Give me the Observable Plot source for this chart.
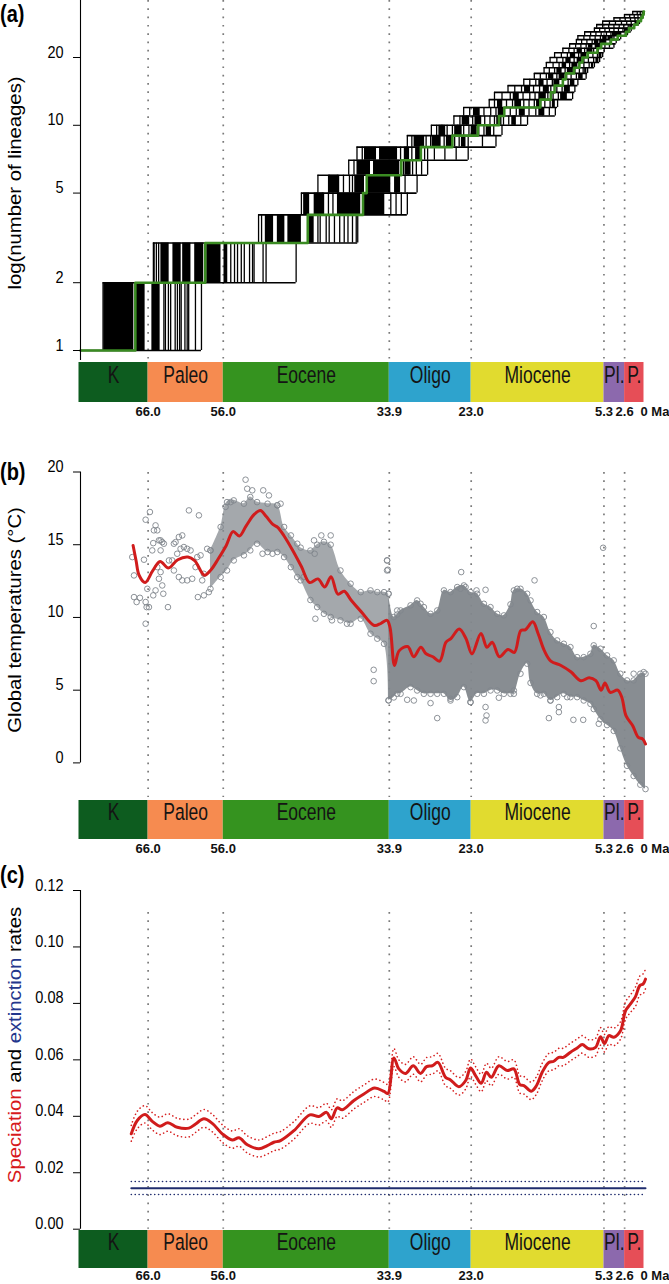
<!DOCTYPE html>
<html><head><meta charset="utf-8">
<script src="https://cdn.jsdelivr.net/npm/d3@7"></script>
<script src="https://cdn.jsdelivr.net/npm/@observablehq/plot@0.6"></script>
<style>
html,body{margin:0;padding:0;background:#fff;}
#chart{position:relative;width:669px;height:1284px;overflow:hidden;background:#fff;}
#chart svg{position:absolute;left:0;overflow:visible;}
</style></head>
<body><div id="chart"></div>
<script>
// ================= DATA =================
// geological time scale (Ma)
const eraNames  = ["K","Paleo","Eocene","Oligo","Miocene","Pl.","P."];
const eraStart  = [75.2, 66.0, 56.0, 33.9, 23.0, 5.33, 2.58];
const eraEnd    = [66.0, 56.0, 33.9, 23.0, 5.33, 2.58, 0];
const eraColors = ["#0d5c1f","#f68b50","#35931f","#2ea3cd","#e1db2f","#8c69ad","#e64e57"];
const boundaryAges   = [66.0, 56.0, 33.9, 23.0, 5.33, 2.58];
const boundaryLabels = ["66.0","56.0","33.9","23.0","5.3","2.6"];
const presentLabel = "0 Ma";

// (a) lineages through time
const lttRootAge = 75.0;
const lttPresentLineages = 32;
// MCC tree branching times: transition from n to n+1 lineages (n = 1..31)
const mccBranchTimes = [67.7,58.4,44.75,37.4,36.9,32.3,29.7,25.5,22.1,19.3,18.6,13.8,12.4,11.9,10.8,10.4,9.3,8.6,8.2,7.5,6.2,5.7,4.4,3.5,2.4,2.0,1.3,0.84,0.4,0.17,0.05];
// posterior trees: branching times at each lineage level (row i = n->n+1)
const treeBranchTimes = [
 [72.0,71.2,68.6,63.9,63.7,63.3,63.0,62.4,62.1,61.8,61.6,61.1,60.8,60.6,59.7,58.9],
 [65.3,65.2,64.9,64.6,55.0,54.5,54.1,53.6,53.2,52.5,52.1,51.9,50.7,50.3,46.3],
 [51.3,50.9,43.4,43.1,42.3,41.9,41.2,40.5,39.9,39.4,38.8,38.3,38.1],
 [45.6,43.5,42.8,42.0,41.4,33.7,33.0,32.3,31.5],
 [43.4,41.9,40.8,40.0,39.2,38.8,32.9,31.8,30.2],
 [39.3,38.6,32.0,31.4,30.8,30.3,29.6,28.8],
 [38.2,37.5,32.4,31.6,30.9,30.0,29.2,28.8,27.9,26.5,25.0,23.4],
 [31.5,30.9,30.2,29.0,28.4,27.3,26.6,26.0,25.2,24.6,23.9,23.4,21.5,19.7],
 [28.3,27.6,26.9,26.2,25.5,24.8,24.0,23.3,22.7,22.0,21.3,20.6,20.0,18.9],
 [25.3,24.5,23.6,22.8,22.0,21.2,20.5,19.9,19.3,18.7,18.0,17.2,16.4,15.5],
 [24.0,23.2,22.1,21.3,20.4,19.7,19.0,18.6,17.8,17.0,16.2,15.3,14.4,13.5,12.6,11.8],
 [20.6,19.9,19.1,18.3,17.5,16.8,16.0,15.3,14.6,13.8,13.2,12.5,11.5],
 [19.9,18.9,17.8,16.9,16.1,15.2,14.5,13.6,12.8,12.1,11.4,10.6,9.5],
 [18.1,17.2,16.3,15.5,14.7,13.9,13.1,12.4,11.6,10.9,10.2,9.2],
 [16.0,15.2,14.4,13.6,12.9,12.2,11.5,10.8,10.1,9.5,8.8],
 [14.6,13.8,13.0,12.3,11.6,10.9,10.3,9.7,9.0,8.4,7.7],
 [13.3,12.6,11.9,11.2,10.5,9.8,9.2,8.6,8.1,7.5],
 [13.0,12.1,11.3,10.6,9.9,9.2,8.6,8.0,7.3,6.6],
 [12.5,11.6,10.8,10.0,9.3,8.6,8.0,7.4,6.7,5.9],
 [11.9,11.0,10.2,9.4,8.7,8.0,7.4,6.8,6.2,5.5],
 [10.8,10.0,9.3,8.6,7.9,7.3,6.7,6.1,5.3],
 [9.9,9.1,8.4,7.7,7.0,6.4,5.8,5.2,4.6,4.0],
 [9.0,8.3,7.6,6.9,6.3,5.7,5.1,4.5,3.7],
 [8.8,8.0,7.2,6.5,5.8,5.2,4.6,4.0,3.1],
 [7.9,7.1,6.4,5.7,5.0,4.4,3.8,3.1,2.2],
 [6.6,5.9,5.2,4.6,4.0,3.4,2.8,2.3,1.7],
 [6.3,5.5,4.7,4.0,3.3,2.7,2.1,1.3],
 [5.5,4.6,3.8,3.0,2.3,1.7,1.1,0.6],
 [4.0,3.2,2.5,1.8,1.2,0.8,0.4],
 [2.6,1.9,1.3,0.8,0.4,0.1],
 [1.5,0.9,0.5,0.2,0.0]
];
// time spans where the posterior branching lines are packed solid black
const treeDenseSpans = [
 [[71.9,67.9],[67.6,66.4],[65.5,64.4]],
 [[64.3,63.2],[62.7,61.6],[61.4,60.3],[59.8,58.6],[58.2,56.3],[55.9,55.4]],
 [[50.4,49.3],[48.8,47.8],[47.4,45.6],[44.7,43.9]],
 [[45.3,44.5],[43.9,42.5],[40.8,37.7],[37.3,34.5]],
 [[42.0,40.5],[38.5,37.2],[36.8,33.7],[33.2,32.4]],
 [[38.2,36.4],[36.0,32.5],[31.8,31.0]],
 [[37.2,35.6],[35.2,32.8],[31.9,31.2],[30.4,29.6]],
 [[30.6,29.2],[28.2,27.0],[26.3,25.4],[24.3,23.7]],
 [[27.3,26.4],[25.2,24.2],[23.0,22.2],[21.0,20.3]],
 [[24.2,23.2],[22.5,21.6],[19.6,18.9],[17.6,17.0]],
 [[22.7,21.8],[19.4,18.7],[16.6,15.8],[14.0,13.2]],
 [[19.5,18.8],[17.2,16.3],[14.3,13.6],[12.2,11.8]],
 [[17.4,16.6],[14.0,13.0],[11.1,10.2]],
 [[15.9,15.1],[13.4,12.6],[10.6,9.8]],
 [[14.0,13.3],[12.0,11.2],[9.8,9.2]],
 [[12.7,12.0],[11.3,10.5],[8.7,8.1]],
 [[11.6,10.9],[10.2,9.4],[7.9,7.6]],
 [[10.9,10.3],[9.6,8.8],[7.0,6.7]],
 [[10.4,9.7],[8.9,8.1],[6.4,6.0]],
 [[9.8,9.1],[8.4,7.6],[6.0,5.6]],
 [[8.9,8.2],[7.6,6.8]],
 [[7.4,6.8],[6.5,5.8]],
 [[6.6,6.0],[5.9,5.1]],
 [[5.5,4.9],[4.8,4.1]],
 [[4.2,3.0]],
 [[2.6,2.0]],
 [[1.9,1.5]],
 [[1.2,0.8]],
 [], [], []
];
const lttTicks = [1,2,5,10,20];

// (b) global temperature: smoothed curve [age, °C]
const tempSmooth = [[68.0,14.95],[67.6,13.9],[67.2,12.9],[66.4,12.4],[65.4,13.2],[64.4,13.85],[63.3,13.4],[62.05,13.97],[60.7,14.15],[59.8,13.9],[58.5,12.9],[57.6,13.3],[56.7,14.0],[55.6,14.95],[54.7,15.9],[53.85,15.6],[52.95,16.3],[51.85,17.1],[51.05,17.35],[50.3,16.95],[49.4,16.4],[48.75,16.2],[47.9,15.6],[46.75,14.6],[45.6,13.5],[44.5,12.4],[43.4,12.65],[42.5,12.1],[41.65,12.8],[40.75,11.6],[39.9,11.8],[39.0,11.2],[37.65,10.4],[35.9,9.45],[35.0,9.6],[34.2,9.8],[33.8,9.3],[33.2,6.7],[32.6,7.7],[31.45,8.0],[30.65,7.3],[29.7,7.95],[29.0,7.5],[28.1,7.3],[27.2,7.0],[26.35,8.3],[25.7,8.55],[24.6,9.2],[23.7,8.55],[22.9,7.5],[21.7,8.9],[20.9,7.95],[20.2,8.3],[19.25,7.3],[18.1,7.8],[17.25,7.6],[16.4,9.1],[15.8,9.15],[14.8,9.7],[14.1,8.9],[13.25,7.7],[12.4,7.0],[11.05,6.7],[9.7,6.25],[8.4,5.65],[7.3,5.85],[6.4,5.65],[5.7,5.0],[5.2,5.5],[4.5,4.85],[3.5,5.0],[2.95,4.5],[2.4,3.25],[1.5,2.55],[0.75,1.75],[0.2,1.65],[-0.2,1.3]];
// dense point cloud envelopes [age, low, high]
const cloudEocene = [[57.7,11.97,14.61],[56.35,12.78,16.22],[55.5,13.23,17.93],[54.6,13.92,18.05],[53.25,14.27,17.82],[52.4,14.61,18.28],[51.5,15.07,17.93],[50.1,14.5,17.82],[48.8,14.5,17.71],[47.9,14.15,16.22],[47.0,13.46,15.64],[46.15,12.78,15.07],[45.7,12.55,14.8],[44.4,11.2,14.6],[43.5,10.71,15.0],[42.6,10.25,15.2],[41.7,10.03,15.0],[40.4,9.8,13.23],[39.05,9.57,12.32],[37.7,9.91,11.74],[36.4,8.88,11.86],[35.5,8.54,11.74],[34.6,8.19,11.74],[34.0,4.3,11.63]];
const cloudNeogene = [[34.0,4.3,11.63],[33.3,4.5,10.03],[32.85,4.75,10.2],[32.4,4.75,10.48],[31.07,5.21,10.83],[30.19,4.98,11.17],[29.3,4.75,10.71],[28.41,4.75,10.25],[27.52,4.75,10.48],[26.63,4.75,11.86],[25.75,4.29,11.74],[24.86,4.52,12.09],[23.97,5.21,12.2],[23.09,4.18,11.74],[22.2,4.75,11.63],[21.31,4.75,10.94],[20.43,4.98,10.71],[19.54,4.98,10.25],[18.65,4.75,10.14],[17.77,4.75,10.9],[17.32,4.75,11.86],[16.44,6.13,11.97],[15.55,6.82,11.63],[15.1,5.5,11.17],[14.22,4.75,10.37],[13.33,4.75,10.03],[12.45,4.29,8.99],[11.56,4.52,8.42],[10.67,4.75,8.19],[9.79,4.52,7.96],[8.9,4.52,7.27],[8.02,4.29,7.27],[7.13,4.06,7.5],[6.69,3.7,8.08],[5.8,3.0,7.85],[4.92,2.6,7.39],[4.03,2.2,7.05],[3.15,1.0,6.13],[2.26,-0.2,5.67],[1.38,-0.9,5.67],[0.49,-1.5,6.13],[-0.2,-1.8,6.13]];
// individual (sparse / outlying) temperature estimates [age, °C]
const tempPoints = [[68.11,14.15],[67.88,12.89],[67.88,11.4],[67.53,11.06],[67.09,11.35],[66.55,13.97],[66.33,16.72],[66.11,11.97],[66.33,11.06],[66.2,10.71],[65.89,10.71],[66.33,9.57],[65.76,17.25],[65.45,14.61],[65.23,15.99],[65.01,16.33],[64.78,15.99],[65.32,15.11],[64.56,15.3],[64.34,15.3],[64.12,15.18],[64.34,14.61],[63.9,15.07],[64.34,13.12],[64.56,12.66],[64.12,12.2],[63.98,11.63],[65.01,11.86],[65.32,11.52],[64.78,13.46],[63.36,10.71],[63.23,13.92],[62.79,13.92],[62.57,15.07],[62.35,15.18],[61.91,15.53],[61.46,15.64],[61.68,14.72],[61.24,14.84],[60.8,14.72],[60.35,14.61],[62.13,14.38],[62.57,13.23],[61.91,12.78],[61.46,12.55],[60.8,12.55],[60.13,12.66],[60.57,17.36],[59.24,17.02],[59.46,14.15],[59.02,14.27],[59.69,13.46],[59.38,11.4],[58.58,11.52],[57.92,11.74],[58.14,14.72],[57.7,14.61],[58.58,13.0],[58.8,12.55],
 [53.03,19.47],[52.81,18.85],[52.14,18.74],[50.68,18.74],[49.92,18.39],[48.81,17.71],[48.37,17.82],[55.02,17.93],[55.69,17.6],[50.77,14.38],[49.44,14.38],[43.92,15.3],[42.95,15.64],[41.7,15.64],[43.83,14.38],[45.3,12.78],[43.74,9.91],[41.53,9.8],[39.53,9.57],[35.98,6.4],[35.98,5.62],[34.2,13.92],[34.2,13.23],
 [34.18,13.92],[34.09,13.28],[24.33,13.12],[14.57,12.55],[6.69,9.41],[5.44,14.79],[27.52,3.08],[28.41,4.11],[21.09,3.84],[20.96,3.26],[21.09,2.92],[19.32,4.48],[12.66,3.08],[11.33,3.84],[11.33,3.49],[9.4,2.96],[8.09,2.96],[6.02,2.69],[1.38,6.13],[0.04,6.24],[24.42,11.97],[23.75,12.09],[22.29,11.86],[21.09,11.9],[16.88,11.97],[32.85,10.48],[29.74,10.94],[30.63,4.29],[31.52,4.34],[25.75,4.41],[23.09,4.18],[17.32,4.98],[13.78,4.64],[12.45,4.29],[10.23,4.52]];
const tempTicks = [0,5,10,15,20];

// (c) speciation (mean, lower, upper) and extinction rates
const specAge   = [68.24,67.44,66.42,65.45,64.43,63.37,62.12,60.57,59.68,58.57,57.46,56.13,54.8,53.9,52.8,51.25,50.14,49.26,48.37,46.6,44.47,43.27,42.25,41.62,40.83,40.16,38.61,37.28,35.86,34.6,34.09,33.29,32.63,31.74,30.71,29.74,28.94,28.18,27.43,26.41,25.75,24.64,23.75,23.09,22.42,21.67,20.96,20.33,19.32,18.2,17.32,16.53,15.99,15.01,14.3,13.55,12.67,12.0,11.34,10.75,9.78,8.89,8.22,7.35,6.45,5.79,5.26,4.68,4.02,3.13,2.46,1.8,1.13,0.56,0.1,-0.2];
const specRate  = [0.0338,0.0385,0.0406,0.0382,0.0365,0.0377,0.0361,0.0358,0.0373,0.0391,0.0375,0.0338,0.0316,0.0324,0.0299,0.0285,0.0296,0.0308,0.0314,0.0349,0.0405,0.0399,0.0414,0.0391,0.043,0.0423,0.0456,0.0479,0.05,0.0488,0.0481,0.0607,0.0568,0.0552,0.0579,0.0552,0.0576,0.0579,0.0591,0.0538,0.0529,0.0505,0.0526,0.0571,0.0544,0.0517,0.0556,0.0538,0.0579,0.0562,0.0568,0.0512,0.0509,0.0489,0.0509,0.0556,0.0591,0.0595,0.0609,0.0609,0.0627,0.0642,0.0654,0.0639,0.0644,0.0682,0.0658,0.0686,0.068,0.0703,0.0774,0.0798,0.0824,0.0863,0.0869,0.0886];
const specUpper = [0.0368,0.0418,0.0438,0.0413,0.0397,0.0409,0.0393,0.0390,0.0405,0.0424,0.0407,0.0370,0.0348,0.0356,0.0331,0.0316,0.0328,0.0340,0.0346,0.0381,0.0437,0.0431,0.0446,0.0423,0.0462,0.0455,0.0488,0.0511,0.0532,0.0520,0.0513,0.0640,0.0600,0.0584,0.0611,0.0584,0.0608,0.0611,0.0623,0.0570,0.0561,0.0537,0.0558,0.0603,0.0576,0.0549,0.0588,0.0570,0.0611,0.0594,0.0600,0.0544,0.0541,0.0521,0.0541,0.0588,0.0623,0.0627,0.0641,0.0641,0.0659,0.0674,0.0686,0.0671,0.0676,0.0714,0.0690,0.0718,0.0712,0.0735,0.0806,0.0830,0.0858,0.0897,0.0905,0.0922];
const specLower = [0.0312,0.0356,0.0376,0.0352,0.0335,0.0347,0.0331,0.0327,0.0343,0.0361,0.0345,0.0308,0.0287,0.0294,0.0270,0.0256,0.0266,0.0278,0.0284,0.0319,0.0375,0.0369,0.0384,0.0361,0.0400,0.0393,0.0426,0.0449,0.0470,0.0458,0.0451,0.0576,0.0538,0.0522,0.0549,0.0522,0.0546,0.0549,0.0561,0.0508,0.0499,0.0475,0.0496,0.0541,0.0514,0.0487,0.0526,0.0508,0.0549,0.0532,0.0538,0.0482,0.0479,0.0459,0.0479,0.0526,0.0561,0.0565,0.0579,0.0579,0.0597,0.0612,0.0624,0.0609,0.0614,0.0652,0.0628,0.0656,0.0650,0.0673,0.0744,0.0768,0.0790,0.0829,0.0835,0.0852];
const extAge   = [68.24,-0.2];
const extRate  = [0.0145,0.0145];
const extLower = [0.0123,0.0123];
const extUpper = [0.0169,0.0169];
const rateTicks = [0,0.02,0.04,0.06,0.08,0.10,0.12];

// ================= DRAWING =================
const FONT = '"Liberation Sans", Arial, Helvetica, sans-serif';
const W = 669;
const xDomain = [75.0, -0.2];
const xRange = [80, 645];
const root = document.getElementById("chart");
const GRID = {stroke:"#7a7a7a", strokeWidth:1.7, strokeDasharray:"1.7,6.6"};
const DOTS = {strokeWidth: 1.6, strokeDasharray: "0.1,3.8", strokeLinecap: "round"};

function place(svg, top){ svg.style.top = top + "px"; root.appendChild(svg); return svg; }
function stretchTexts(svg, selector, s){
  svg.querySelectorAll(selector).forEach(el => {
    const x = el.getAttribute("x"), y = el.getAttribute("y");
    let tr = el.getAttribute("transform") || "";
    if (x !== null || y !== null) { tr += ` translate(${+x||0},${+y||0})`; el.removeAttribute("x"); el.removeAttribute("y"); }
    el.setAttribute("transform", tr + ` scale(1,${s})`);
  });
}
function addText(svg, o){
  const t = d3.select(svg).append("text")
    .attr("transform", `translate(${o.x},${o.y}) rotate(${o.rotate||0}) scale(${o.rotate ? o.s : 1},${o.rotate ? 1 : o.s})`)
    .attr("text-anchor", o.anchor || "middle").attr("dy", "0.35em")
    .attr("font-family", FONT).attr("font-size", o.size).attr("font-weight", o.weight || "normal");
  (o.parts || [[o.text, "black"]]).forEach(([s, c]) => t.append("tspan").attr("fill", c).text(s));
}
function styleAxis(svg){ stretchTexts(svg, 'g[aria-label="y-axis tick label"] text', 1.15); }
const AXIS = {tickSize: 7, tickPadding: 10, fontSize: 14.5, label: null, fontFamily: FONT};

// ---------- time-scale bar ----------
const eras = eraNames.map((name, i) => ({name, start: eraStart[i], end: eraEnd[i], color: eraColors[i]}));
const bLabels = boundaryAges.map((t, i) => ({t, label: boundaryLabels[i]}));
function timeBar(top, barH, labelOffset, h){
  const svg = Plot.plot({
    width: W, height: h, margin: 0, style: {background: "transparent", overflow: "visible"},
    x: {domain: xDomain, range: xRange, axis: null},
    y: {domain: [0, 1], range: [0, barH], axis: null},
    marks: [
      Plot.rect(eras, {x1: "start", x2: "end", y1: 0, y2: 1, fill: "color"}),
      Plot.text(eras, {x: d => (d.start + d.end) / 2, y: 0.5, text: "name", fontSize: 17.5, fill: "#141414", fontFamily: FONT}),
      Plot.text(bLabels, {x: "t", y: 1, dy: labelOffset, text: "label", fontSize: 13, fontWeight: "bold", fill: "#111", fontFamily: FONT}),
      Plot.text([presentLabel], {x: 0, y: 1, dy: labelOffset, dx: -3.5, text: d => d, textAnchor: "start", fontSize: 13, fontWeight: "bold", fill: "#111", fontFamily: FONT})
    ]
  });
  svg.querySelectorAll('g[aria-label="text"]').forEach((g, i) => {
    stretchTexts(g, "text", i === 0 ? 1.4 : 1.05);
  });
  return place(svg, top);
}

// ---------- (a) LTT ----------
const lttLines = [];
treeBranchTimes.forEach((arr, i) => arr.forEach(t => lttLines.push({t, n: i + 1})));
const lttDense = [];
treeDenseSpans.forEach((arr, i) => arr.forEach(([a, b]) => lttDense.push({t1: a, t2: b, n: i + 1})));
const lttLevels = [];
for (let n = 1; n <= lttPresentLineages; n++) {
  const prev = n === 1 ? [lttRootAge] : treeBranchTimes[n - 2].concat(treeDenseSpans[n - 2].flat());
  const next = n === lttPresentLineages ? [0] : treeBranchTimes[n - 1].concat(treeDenseSpans[n - 1].flat());
  lttLevels.push({n, t1: d3.max(prev), t2: d3.min(next)});
}
const mccSteps = [{t: lttRootAge, n: 1}];
mccBranchTimes.forEach((t, i) => { mccSteps.push({t, n: i + 1}); mccSteps.push({t, n: i + 2}); });
mccSteps.push({t: 0, n: lttPresentLineages});

const A = Plot.plot({
  width: W, height: 362, marginLeft: 80, marginRight: 24, marginTop: 0, marginBottom: 2,
  style: {background: "transparent", overflow: "visible"},
  x: {domain: xDomain, range: xRange, axis: null},
  y: {type: "log", domain: [1, 20], range: [350, 57], axis: null},
  marks: [
    Plot.ruleX(boundaryAges, GRID),
    Plot.rect(lttDense, {x1: "t1", x2: "t2", y1: "n", y2: d => d.n + 1, fill: "black"}),
    Plot.ruleX(lttLines, {x: "t", y1: "n", y2: d => d.n + 1, stroke: "black", strokeWidth: 1.3}),
    Plot.ruleY(lttLevels, {y: "n", x1: "t1", x2: "t2", stroke: "black", strokeWidth: 1.6}),
    Plot.line(mccSteps, {x: "t", y: "n", stroke: "#3a8b22", strokeWidth: 2.6, curve: "linear"}),
    Plot.ruleX([xDomain[0]], {stroke: "black", strokeWidth: 1.1}),
    Plot.axisY({ticks: lttTicks, tickFormat: d => String(d), ...AXIS})
  ]
});
styleAxis(A);
addText(A, {x: 0, y: 14, text: "(a)", size: 20, weight: "bold", s: 1.15, anchor: "start"});
addText(A, {x: 15, y: 183, text: "log(number of lineages)", size: 17.5, rotate: -90, s: 1.16});
place(A, 0);
timeBar(362, 40, 13, 58);

// ---------- (b) temperature ----------
const cloudE = cloudEocene.map(([t, lo, hi]) => ({t, lo, hi}));
const cloudN = cloudNeogene.map(([t, lo, hi]) => ({t, lo, hi}));
const edgePts = cloudE.concat(cloudN).flatMap(d => [[d.t, d.lo], [d.t, d.hi]]);
const B = Plot.plot({
  width: W, height: 380, marginLeft: 80, marginRight: 24, marginTop: 52, marginBottom: 3,
  style: {background: "transparent", overflow: "visible"},
  x: {domain: xDomain, range: xRange, axis: null},
  y: {domain: [0, 20], range: [342.4, 51.5], axis: null},
  marks: [
    Plot.ruleX(boundaryAges, GRID),
    Plot.areaY(cloudE, {x: "t", y1: "lo", y2: "hi", fill: "#868b90", fillOpacity: 0.75, curve: "catmull-rom"}),
    Plot.areaY(cloudN, {x: "t", y1: "lo", y2: "hi", fill: "#82878c", fillOpacity: 0.95, curve: "catmull-rom"}),
    Plot.dot(edgePts, {x: d => d[0], y: d => d[1], r: 2.8, stroke: "#80868c", strokeWidth: 0.9}),
    Plot.dot(tempPoints, {x: d => d[0], y: d => d[1], r: 2.8, stroke: "#80868c", strokeWidth: 0.9}),
    Plot.line(tempSmooth, {x: d => d[0], y: d => d[1], stroke: "#d01c1c", strokeWidth: 3, curve: "catmull-rom"}),
    Plot.ruleX([xDomain[0]], {y1: 0, y2: 20, stroke: "black", strokeWidth: 1.1}),
    Plot.axisY({ticks: tempTicks, ...AXIS})
  ]
});
styleAxis(B);
addText(B, {x: 0, y: 52, text: "(b)", size: 20, weight: "bold", s: 1.15, anchor: "start"});
addText(B, {x: 15, y: 200, text: "Global temperatures (°C)", size: 17.5, rotate: -90, s: 1.16});
place(B, 420);
timeBar(800, 39, 13, 60);

// ---------- (c) rates ----------
const spec = specAge.map((t, i) => ({t, m: specRate[i], lo: specLower[i], hi: specUpper[i]}));
const ext = extAge.map((t, i) => ({t, m: extRate[i], lo: extLower[i], hi: extUpper[i]}));
const C = Plot.plot({
  width: W, height: 370, marginLeft: 80, marginRight: 24, marginTop: 52, marginBottom: 1.3,
  style: {background: "transparent", overflow: "visible"},
  x: {domain: xDomain, range: xRange, axis: null},
  y: {domain: [0, 0.12], range: [368.7, 30], axis: null},
  marks: [
    Plot.ruleX(boundaryAges, GRID),
    Plot.line(ext, {x: "t", y: "hi", stroke: "#1f2c6e", ...DOTS}),
    Plot.line(ext, {x: "t", y: "lo", stroke: "#1f2c6e", ...DOTS}),
    Plot.line(ext, {x: "t", y: "m", stroke: "#1f2c6e", strokeWidth: 2}),
    Plot.line(spec, {x: "t", y: "hi", stroke: "#d62020", curve: "catmull-rom", ...DOTS}),
    Plot.line(spec, {x: "t", y: "lo", stroke: "#d62020", curve: "catmull-rom", ...DOTS}),
    Plot.line(spec, {x: "t", y: "m", stroke: "#d01c1c", strokeWidth: 3, curve: "catmull-rom"}),
    Plot.ruleX([xDomain[0]], {y1: 0, y2: 0.12, stroke: "black", strokeWidth: 1.1}),
    Plot.axisY({ticks: rateTicks, tickFormat: d => d.toFixed(2), ...AXIS})
  ]
});
styleAxis(C);
addText(C, {x: 0, y: 15, text: "(c)", size: 20, weight: "bold", s: 1.15, anchor: "start"});
addText(C, {x: 15, y: 185, size: 17.5, rotate: -90, s: 1.16,
  parts: [["Speciation", "#d7191c"], [" and ", "black"], ["extinction", "#23368c"], [" rates", "black"]]});
place(C, 860);
timeBar(1230, 38, 11, 54);
</script></body></html>
